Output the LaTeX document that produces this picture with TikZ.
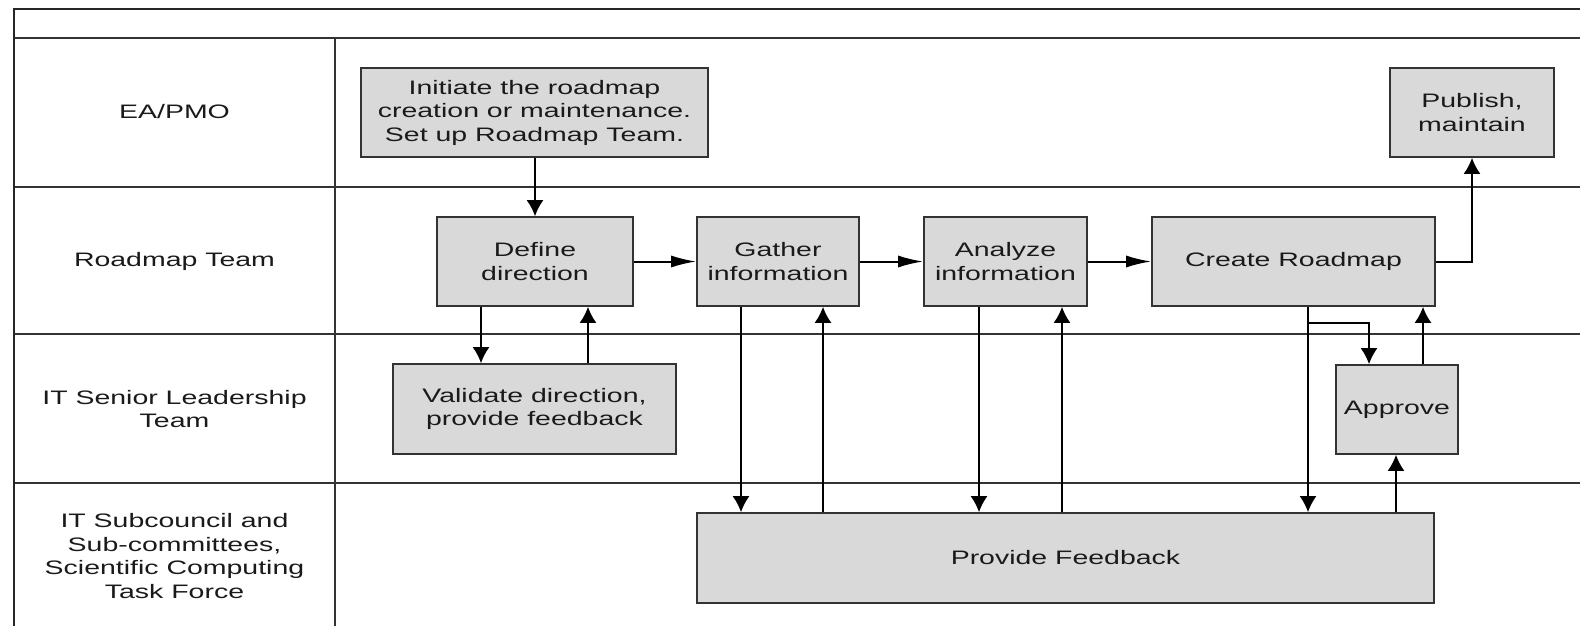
\documentclass[tikz,border=0pt]{standalone}
\usepackage{fontspec}
\setmainfont[FakeStretch=1.46]{Liberation Sans}
\usetikzlibrary{arrows.meta}
\definecolor{boxfill}{HTML}{D9D9D9}
\definecolor{edge}{HTML}{333333}
\definecolor{ink}{HTML}{1A1A1A}
\tikzset{
  lane/.style={draw=edge, line width=1.6pt},
  border/.style={draw=black!85, line width=2pt},
  lbl/.style={align=center, inner sep=0pt, font=\fontsize{19.5}{23.5}\selectfont, text=ink},
  task/.style={draw=edge, line width=1.6pt, fill=boxfill, align=center, inner sep=0pt,
    font=\fontsize{19.5}{23.5}\selectfont, text=ink},
  varr/.style={draw=black, line width=2pt, -{Latex[length=16pt,width=17pt]}},
  harr/.style={draw=black, line width=2pt, -{Latex[length=25pt,width=12pt]}}
}
\begin{document}
\begin{tikzpicture}[x=1pt,y=-1pt]
\useasboundingbox (0,0) rectangle (1580,626);
\fill[white] (0,0) rectangle (1580,626);
% lanes
\draw[lane] (14,38) -- (1580,38);
\draw[lane] (14,187) -- (1580,187);
\draw[lane] (14,334) -- (1580,334);
\draw[lane] (14,483) -- (1580,483);
\draw[lane] (335,38) -- (335,626);
\draw[border] (14,626) -- (14,9) -- (1580,9);
% lane labels
\node[lbl] (l1) at (174.5,112) {EA/PMO};
\node[lbl] (l2) at (174.5,261) {Roadmap Team};
\node[lbl] (l3) at (174.5,409) {IT Senior Leadership\\Team};
\node[lbl] (l4) at (174.5,556) {IT Subcouncil and\\Sub-committees,\\Scientific Computing\\Task Force};
% tasks
\node[task, minimum width=347pt, minimum height=89pt] (init) at (534.5,112.5) {Initiate the roadmap\\creation or maintenance.\\Set up Roadmap Team.};
\node[task, minimum width=164pt, minimum height=89pt] (pub) at (1472,112.5) {Publish,\\maintain};
\node[task, minimum width=196pt, minimum height=89pt] (def) at (535,261.5) {Define\\direction};
\node[task, minimum width=162pt, minimum height=89pt] (gat) at (778,261.5) {Gather\\information};
\node[task, minimum width=163pt, minimum height=89pt] (ana) at (1005.5,261.5) {Analyze\\information};
\node[task, minimum width=283pt, minimum height=89pt] (cre) at (1293.5,261.5) {Create Roadmap};
\node[task, minimum width=283pt, minimum height=90pt] (val) at (534.5,409) {Validate direction,\\provide feedback};
\node[task, minimum width=122pt, minimum height=89pt] (app) at (1397,409.5) {Approve};
\node[task, minimum width=737pt, minimum height=90pt] (pf) at (1065.5,558) {Provide Feedback};
% x positions of connectors
\coordinate (x1) at (481,0);
\coordinate (x2) at (588,0);
\coordinate (x3) at (741,0);
\coordinate (x4) at (823,0);
\coordinate (x5) at (979,0);
\coordinate (x6) at (1062,0);
\coordinate (x7) at (1308,0);
\coordinate (x8) at (1369,0);
\coordinate (x9) at (1423,0);
\coordinate (x10) at (1396,0);
\coordinate (br) at (1308,323);
% connectors
\draw[varr] (init.south -| def.north) -- (def.north);
\draw[harr] (def.east) -- (gat.west);
\draw[harr] (gat.east) -- (ana.west);
\draw[harr] (ana.east) -- (cre.west);
\draw[varr] (cre.east) -| (pub.south);
\draw[varr] (def.south -| x1) -- (val.north -| x1);
\draw[varr] (val.north -| x2) -- (def.south -| x2);
\draw[varr] (gat.south -| x3) -- (pf.north -| x3);
\draw[varr] (pf.north -| x4) -- (gat.south -| x4);
\draw[varr] (ana.south -| x5) -- (pf.north -| x5);
\draw[varr] (pf.north -| x6) -- (ana.south -| x6);
\draw[varr] (cre.south -| x7) -- (pf.north -| x7);
\draw[varr] (br) -| (app.north -| x8);
\draw[varr] (app.north -| x9) -- (cre.south -| x9);
\draw[varr] (pf.north -| x10) -- (app.south -| x10);
\end{tikzpicture}
\end{document}
